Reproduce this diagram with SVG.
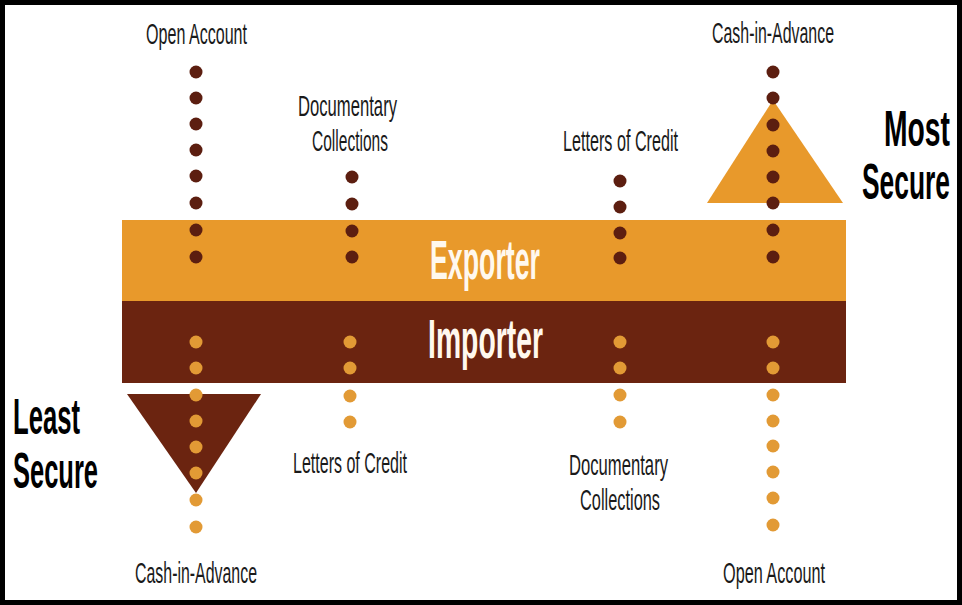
<svg xmlns="http://www.w3.org/2000/svg" width="962" height="605" viewBox="0 0 962 605">
<defs>
<style>
.lbl{font-family:"Liberation Sans",Arial,sans-serif;font-size:30px;fill:#1a1a1a;text-anchor:middle}
.big{font-family:"Liberation Sans",Arial,sans-serif;font-weight:bold;font-size:50px;fill:#000}
.bar{font-family:"Liberation Sans",Arial,sans-serif;font-weight:bold;font-size:56px;fill:#fff8ee;text-anchor:middle}
.dk{fill:#5c1e10}
.or{fill:#e29a35}
</style>
</defs>
<rect x="0" y="0" width="962" height="605" fill="#fff"/>
<rect x="2.5" y="2.5" width="957" height="600" fill="none" stroke="#000" stroke-width="5"/>

<g id="exporter">
<rect x="122" y="220" width="724" height="81" fill="#e8992b"/>
<text class="bar" x="485" y="279" textLength="110" lengthAdjust="spacingAndGlyphs">Exporter</text>
</g>
<g id="importer">
<rect x="122" y="301" width="724" height="82" fill="#6b2410"/>
<text class="bar" x="485.5" y="358" textLength="115" lengthAdjust="spacingAndGlyphs">Importer</text>
</g>

<g id="most-secure">
<polygon points="707,203 843,203 773,100" fill="#e8992b"/>
<text class="big" x="950" y="146" text-anchor="end" textLength="66" lengthAdjust="spacingAndGlyphs">Most</text>
<text class="big" x="950" y="199" text-anchor="end" textLength="88" lengthAdjust="spacingAndGlyphs">Secure</text>
</g>
<g id="least-secure">
<polygon points="127,394 261,394 196,493" fill="#6b2410"/>
<text class="big" x="13" y="434" textLength="67" lengthAdjust="spacingAndGlyphs">Least</text>
<text class="big" x="13" y="488" textLength="85" lengthAdjust="spacingAndGlyphs">Secure</text>
</g>

<g id="exp-open-account">
<text class="lbl" x="196.5" y="44" textLength="101" lengthAdjust="spacingAndGlyphs">Open Account</text>
</g>
<g id="exp-documentary-collections">
<text class="lbl" x="347.5" y="116" textLength="99" lengthAdjust="spacingAndGlyphs">Documentary</text>
<text class="lbl" x="350" y="151" textLength="76" lengthAdjust="spacingAndGlyphs">Collections</text>
</g>
<g id="exp-letters-of-credit">
<text class="lbl" x="620.5" y="151" textLength="115" lengthAdjust="spacingAndGlyphs">Letters of Credit</text>
</g>
<g id="exp-cash-in-advance">
<text class="lbl" x="773" y="43" textLength="122" lengthAdjust="spacingAndGlyphs">Cash-in-Advance</text>
</g>
<g id="imp-cash-in-advance">
<text class="lbl" x="196" y="583" textLength="122" lengthAdjust="spacingAndGlyphs">Cash-in-Advance</text>
</g>
<g id="imp-letters-of-credit">
<text class="lbl" x="350" y="473" textLength="114" lengthAdjust="spacingAndGlyphs">Letters of Credit</text>
</g>
<g id="imp-documentary-collections">
<text class="lbl" x="618.5" y="475" textLength="99" lengthAdjust="spacingAndGlyphs">Documentary</text>
<text class="lbl" x="620" y="510" textLength="80" lengthAdjust="spacingAndGlyphs">Collections</text>
</g>
<g id="imp-open-account">
<text class="lbl" x="774" y="583" textLength="102" lengthAdjust="spacingAndGlyphs">Open Account</text>
</g>

<g id="connectors">
<g class="dk">
<circle cx="196" cy="72" r="6.5"/><circle cx="196" cy="98" r="6.5"/><circle cx="196" cy="124" r="6.5"/><circle cx="196" cy="150" r="6.5"/><circle cx="196" cy="176" r="6.5"/><circle cx="196" cy="203" r="6.5"/><circle cx="196" cy="230" r="6.5"/><circle cx="196" cy="257" r="6.5"/>
<circle cx="352" cy="177" r="6.5"/><circle cx="352" cy="204" r="6.5"/><circle cx="352" cy="231" r="6.5"/><circle cx="352" cy="257" r="6.5"/>
<circle cx="620" cy="181" r="6.5"/><circle cx="620" cy="207" r="6.5"/><circle cx="620" cy="233" r="6.5"/><circle cx="620" cy="258" r="6.5"/>
<circle cx="773" cy="72" r="6.5"/><circle cx="773" cy="98" r="6.5"/><circle cx="773" cy="125" r="6.5"/><circle cx="773" cy="151" r="6.5"/><circle cx="773" cy="177" r="6.5"/><circle cx="773" cy="203" r="6.5"/><circle cx="773" cy="230" r="6.5"/><circle cx="773" cy="257" r="6.5"/>
</g>
<g class="or">
<circle cx="196" cy="342" r="6.5"/><circle cx="196" cy="368" r="6.5"/><circle cx="196" cy="395" r="6.5"/><circle cx="196" cy="421" r="6.5"/><circle cx="196" cy="447" r="6.5"/><circle cx="196" cy="473" r="6.5"/><circle cx="196" cy="500" r="6.5"/><circle cx="196" cy="527" r="6.5"/>
<circle cx="350" cy="342" r="6.5"/><circle cx="350" cy="368" r="6.5"/><circle cx="350" cy="396" r="6.5"/><circle cx="350" cy="422" r="6.5"/>
<circle cx="620" cy="342" r="6.5"/><circle cx="620" cy="368" r="6.5"/><circle cx="620" cy="395" r="6.5"/><circle cx="620" cy="422" r="6.5"/>
<circle cx="773" cy="342" r="6.5"/><circle cx="773" cy="368" r="6.5"/><circle cx="773" cy="395" r="6.5"/><circle cx="773" cy="421" r="6.5"/><circle cx="773" cy="446" r="6.5"/><circle cx="773" cy="472" r="6.5"/><circle cx="773" cy="498" r="6.5"/><circle cx="773" cy="525" r="6.5"/>
</g>
</g>
</svg>
